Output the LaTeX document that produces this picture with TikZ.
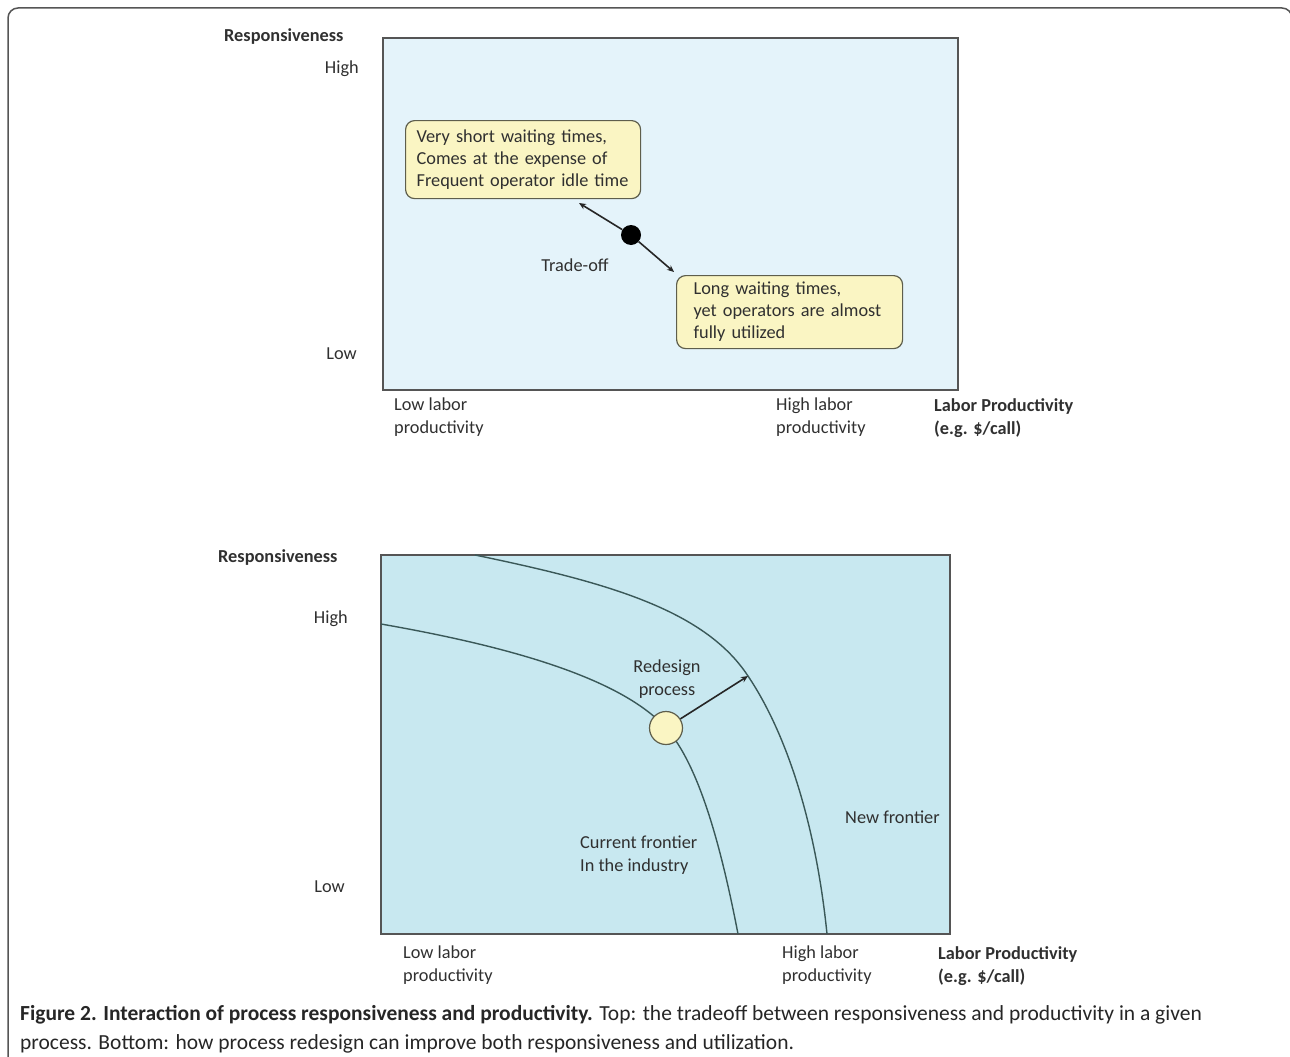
\documentclass[tikz,border=0pt]{standalone}
\usepackage{fontspec}
\setmainfont{Carlito}
\usetikzlibrary{arrows.meta,positioning}
\definecolor{topfill}{HTML}{E4F3FA}
\definecolor{botfill}{HTML}{C8E8F0}
\definecolor{notefill}{HTML}{FAF5C3}
\definecolor{noteedge}{HTML}{5E5E4C}
\definecolor{framecol}{HTML}{555555}
\definecolor{labelgray}{HTML}{303030}
\definecolor{curvecol}{HTML}{3A5858}

\begin{document}
\begin{tikzpicture}[x=1pt, y=-1pt,
  txt/.style={font=\fontsize{18.3}{23}\selectfont, text=labelgray, inner sep=0pt, align=left},
  ttl/.style={txt, font=\fontsize{18.3}{23}\selectfont\bfseries},
  panel/.style={draw=framecol, line width=1.8pt},
  note/.style={draw=noteedge, fill=notefill, rounded corners=9pt, line width=1.2pt,
    align=left, inner sep=0pt, font=\fontsize{18.3}{22}\selectfont, text=labelgray},
  arr/.style={-{Stealth[length=7pt, width=6pt]}, line width=1.6pt, draw=black!85},
  frontier/.style={draw=curvecol, line width=1.4pt},
]
\useasboundingbox (0,0) rectangle (1290,1057);

% outer frame
\draw[framecol, line width=1.5pt, rounded corners=10pt] (8,1070) -- (8,8) -- (1292,8) -- (1292,1070);

% ---- top panel: trade-off
\filldraw[panel, fill=topfill] (383,38) rectangle (958,390);
\node[ttl, anchor=west] (resp1) at (224,37) {Responsiveness};
\node[txt, anchor=east] (high1) at (359,69) {High};
\node[txt, anchor=east] (low1) at (357,354) {Low};

\node[note, anchor=north west, minimum width=235pt, minimum height=78pt, text width=213pt] (short) at (405,120)
  {Very short waiting times,\\Comes at the expense of\\Frequent operator idle time};
\node[note, anchor=north west, minimum width=226pt, minimum height=73pt, text width=192pt] (long) at (676,275)
  {Long waiting times,\\yet operators are almost\\fully utilized};

\node[circle, fill=black, minimum size=20pt, inner sep=0pt] (dot) at (631,235) {};
\coordinate (upend) at (579,203);
\coordinate (downend) at (674,272);
\draw[arr] (dot) -- (upend);
\draw[arr] (dot) -- (downend);
\node[txt] (trade) at (575,265) {Trade-off};

\node[txt, anchor=north west] (lowlab1) at (394,398) {Low labor\\productivity};
\node[txt, anchor=north west] (highlab1) at (776,398) {High labor\\productivity};
\node[ttl, anchor=north west] (prod1) at (934,398) {Labor Productivity\\(e.g. \$/call)};

% ---- bottom panel: redesign
\filldraw[panel, fill=botfill] (381,555) rectangle (950,934);
\node[ttl, anchor=west] (resp2) at (218,558) {Responsiveness};
\node[txt, anchor=east] (high2) at (348,619) {High};
\node[txt, anchor=east] (low2) at (345,887) {Low};

\coordinate (curA) at (381,624);
\coordinate (nowpt) at (666,728);
\coordinate (curB) at (738,934);
\coordinate (newA) at (475,555);
\coordinate (newpt) at (748,676);
\coordinate (newB) at (827,934);

% frontiers
\draw[frontier] (curA) .. controls (501,645) and (619,676) .. (nowpt)
  .. controls (699,765) and (721,846) .. (curB);
\draw[frontier] (newA) .. controls (605,582) and (704,609) .. (newpt)
  .. controls (787,734) and (816,825) .. (newB);
\node[circle, draw=noteedge, fill=notefill, line width=1.2pt, minimum size=33pt, inner sep=0pt] (now) at (nowpt) {};
\draw[arr] (now) -- (newpt);

\node[txt, align=center] (redesign) at (667,679) {Redesign\\process};
\node[txt, anchor=west] (newlab) at (845,817) {New frontier};
\node[txt, anchor=west] (curlab) at (580,855) {Current frontier\\In the industry};

\node[txt, anchor=north west] (lowlab2) at (403,946) {Low labor\\productivity};
\node[txt, anchor=north west] (highlab2) at (782,946) {High labor\\productivity};
\node[ttl, anchor=north west] (prod2) at (938,946) {Labor Productivity\\(e.g. \$/call)};

% caption
\node[anchor=north west, inner sep=0pt, align=left, text=black!85, font=\fontsize{21.5}{29}\selectfont] (cap) at (20,1005)
  {\textbf{Figure 2. Interaction of process responsiveness and productivity.} Top: the tradeoff between responsiveness and productivity in a given\\
   process. Bottom: how process redesign can improve both responsiveness and utilization.};
\end{tikzpicture}
\end{document}
